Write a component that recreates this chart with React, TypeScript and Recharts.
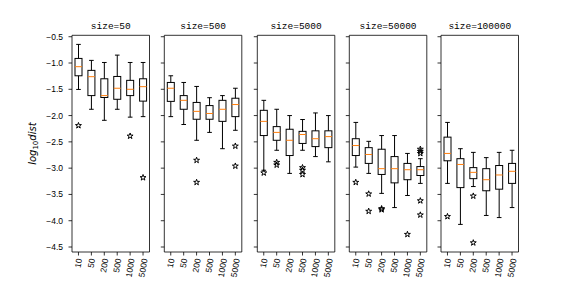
import React from 'react';
import { ComposedChart, Bar, Scatter, XAxis, YAxis, ReferenceArea } from 'recharts';

// ---------- data ----------
const CATEGORIES = ['10', '50', '200', '500', '1000', '5000'];
const SIZES = ['50', '500', '5000', '50000', '100000'];
const Y_TICKS = [-0.5, -1.0, -1.5, -2.0, -2.5, -3.0, -3.5, -4.0, -4.5];

const WHISKER_HIGH = [
  [-0.646, -0.95, -0.99, -0.85, -0.99, -0.99],
  [-1.243, -1.37, -1.446, -1.66, -1.62, -1.48],
  [-1.71, -1.88, -2.0, -2.075, -1.95, -2.0],
  [-2.13, -2.49, -2.38, -2.38, -2.72, -2.82],
  [-2.13, -2.63, -2.7, -2.8, -2.7, -2.66],
];
const Q3 = [
  [-0.913, -1.14, -1.3, -1.256, -1.33, -1.3],
  [-1.37, -1.62, -1.75, -1.81, -1.71, -1.67],
  [-1.9, -2.21, -2.26, -2.3, -2.29, -2.29],
  [-2.44, -2.61, -2.64, -2.78, -2.91, -2.97],
  [-2.41, -2.82, -2.99, -3.01, -2.95, -2.91],
];
const MEDIAN = [
  [-1.07, -1.26, -1.62, -1.48, -1.5, -1.45],
  [-1.48, -1.71, -1.92, -1.96, -1.88, -1.79],
  [-2.11, -2.32, -2.47, -2.36, -2.44, -2.4],
  [-2.57, -2.74, -3.01, -3.01, -3.03, -3.03],
  [-2.72, -2.93, -3.08, -3.22, -3.13, -3.06],
];
const Q1 = [
  [-1.243, -1.62, -1.656, -1.69, -1.62, -1.725],
  [-1.73, -1.88, -2.07, -2.07, -2.11, -2.02],
  [-2.38, -2.47, -2.76, -2.53, -2.59, -2.61],
  [-2.76, -2.91, -3.12, -3.28, -3.22, -3.14],
  [-2.86, -3.37, -3.2, -3.43, -3.4, -3.29],
];
const WHISKER_LOW = [
  [-1.503, -1.88, -2.09, -1.88, -2.03, -2.02],
  [-2.02, -2.17, -2.47, -2.32, -2.63, -2.28],
  [-3.04, -2.66, -3.1, -2.66, -2.78, -2.88],
  [-2.98, -3.1, -3.48, -3.75, -3.52, -3.29],
  [-3.29, -4.07, -3.35, -3.9, -3.94, -3.75],
];
const OUTLIERS: number[][][] = [
  [[-2.19], [], [], [], [-2.39], [-3.18]],
  [[], [], [-2.85, -3.27], [], [], [-2.58, -2.96]],
  [[-3.09], [-2.89, -2.94], [], [-2.99, -3.04, -3.12], [], []],
  [[-3.27], [-3.49, -3.82], [-3.77, -3.79], [], [-4.26], [-2.64, -2.68, -2.72, -3.62, -3.89]],
  [[-3.92], [], [-3.53, -4.42], [], [], []],
];

// ---------- layout ----------
const W = 576;
const H = 288;
const PANEL_LEFT = [72, 164.3, 257.3, 349.3, 441];
const PANEL_W = 77.5;
const PLOT_TOP = 35.3;
const PLOT_BOTTOM = 252;
const Y_DOMAIN: [number, number] = [-4.595, -0.473];
const X_DOMAIN: [number, number] = [0.5, 6.5];
const YAXIS_W = 40;
const XAXIS_H = 30;
const TICK_FONT = '"Liberation Sans", Arial, sans-serif';
const TITLE_FONT = '"Liberation Mono", monospace';

const fmt = (v: number) => v.toFixed(1).replace('-', '\u2212');

const BoxShape = (props: any) => {
  const { x, y, width, height, payload } = props;
  if (x == null || y == null || !payload) return <g />;
  const top = Math.min(y, y + height);
  const bot = Math.max(y, y + height);
  const hi = payload.wh;
  const lo = payload.wl;
  const k = (bot - top) / (hi - lo);
  const py = (v: number) => top + (hi - v) * k;
  const cx = x + width / 2;
  const half = width / 2;
  const cap = width * 0.33;
  const yq3 = py(payload.q3);
  const yq1 = py(payload.q1);
  const ym = py(payload.med);
  return (
    <g>
      <line x1={cx} x2={cx} y1={top} y2={yq3} stroke="#000" strokeWidth={1} />
      <line x1={cx} x2={cx} y1={yq1} y2={bot} stroke="#000" strokeWidth={1} />
      <line x1={cx - cap} x2={cx + cap} y1={top} y2={top} stroke="#000" strokeWidth={1} />
      <line x1={cx - cap} x2={cx + cap} y1={bot} y2={bot} stroke="#000" strokeWidth={1} />
      <rect x={cx - half} y={yq3} width={width} height={yq1 - yq3} fill="none" stroke="#000" strokeWidth={1} />
      <line x1={cx - half} x2={cx + half} y1={ym} y2={ym} stroke="#ff7f0e" strokeWidth={1} />
    </g>
  );
};

const StarShape = (p: any) => {
  const { cx, cy } = p;
  if (cx == null || cy == null) return <g />;
  const R = 3.1;
  const r = R * 0.382;
  const pts: string[] = [];
  for (let k = 0; k < 10; k++) {
    const rad = k % 2 === 0 ? R : r;
    const a = -Math.PI / 2 + (k * Math.PI) / 5;
    pts.push(`${cx + rad * Math.cos(a)},${cy + rad * Math.sin(a)}`);
  }
  return <polygon points={pts.join(' ')} fill="none" stroke="#000" strokeWidth={1} />;
};

const makeYTick = (show: boolean) => (p: any) =>
  show ? (
    <text x={p.x} y={p.y} dy="0.35em" textAnchor="end" fontSize={8.5} fontFamily={TICK_FONT} fill="#000">
      {fmt(p.payload.value)}
    </text>
  ) : (
    <g />
  );

const XTick = (p: any) => {
  const { x, y, payload } = p;
  const label = CATEGORIES[Math.round(payload.value) - 1] ?? '';
  const L = label.length * 4.7;
  const ax = x + 0.087 * L;
  return (
    <text
      x={ax}
      y={y}
      dy="0.35em"
      transform={`rotate(-80, ${ax}, ${y})`}
      textAnchor="end"
      fontSize={8.5}
      fontFamily={TICK_FONT}
      fill="#000"
    >
      {label}
    </text>
  );
};

const YLabel = (p: any) => {
  const vb = p.viewBox || { x: 32, y: PLOT_TOP, width: YAXIS_W, height: PLOT_BOTTOM - PLOT_TOP };
  const cx = vb.x + vb.width - 36;
  const cy = vb.y + vb.height / 2;
  return (
    <text
      x={cx}
      y={cy}
      transform={`rotate(-90, ${cx}, ${cy})`}
      textAnchor="middle"
      fontSize={10}
      fontFamily='"DejaVu Sans", sans-serif'
      fill="#000"
    >
      <tspan fontStyle="italic">log</tspan>
      <tspan fontSize={7} dy={2}>10</tspan>
      <tspan fontStyle="italic" dy={-2}>dist</tspan>
    </text>
  );
};

function Panel({ idx }: { idx: number }) {
  const rows = CATEGORIES.map((_, i) => ({
    pos: i + 1,
    wl: WHISKER_LOW[idx][i],
    q1: Q1[idx][i],
    med: MEDIAN[idx][i],
    q3: Q3[idx][i],
    wh: WHISKER_HIGH[idx][i],
    range: [WHISKER_LOW[idx][i], WHISKER_HIGH[idx][i]],
  }));
  const fliers = OUTLIERS[idx].flatMap((vals, i) => vals.map((v) => ({ pos: i + 1, v })));
  const left = PANEL_LEFT[idx];
  const title = `size=${SIZES[idx]}`;
  const TitleLabel = (p: any) => {
    const vb = p.viewBox || { x: left, y: PLOT_TOP, width: PANEL_W };
    return (
      <text x={vb.x + vb.width / 2} y={vb.y - 6.3} textAnchor="middle" fontSize={9.5} fontFamily={TITLE_FONT} fill="#000">
        {title}
      </text>
    );
  };
  return (
    <div style={{ position: 'absolute', left: 0, top: 0 }}>
      <ComposedChart
        width={W}
        height={H}
        data={rows}
        margin={{
          top: PLOT_TOP,
          bottom: H - PLOT_BOTTOM - XAXIS_H,
          left: left - YAXIS_W,
          right: W - left - PANEL_W,
        }}
      >
        <XAxis
          dataKey="pos"
          type="number"
          domain={X_DOMAIN}
          ticks={[1, 2, 3, 4, 5, 6]}
          allowDataOverflow
          height={XAXIS_H}
          axisLine={false}
          tickLine={{ stroke: '#000', strokeWidth: 0.8 }}
          tickSize={3.5}
          tickMargin={3}
          interval={0}
          tick={XTick}
        />
        <YAxis
          type="number"
          domain={Y_DOMAIN}
          ticks={Y_TICKS}
          allowDataOverflow
          width={YAXIS_W}
          axisLine={false}
          tickLine={{ stroke: '#000', strokeWidth: 0.8 }}
          tickSize={3.5}
          tickMargin={5.5}
          interval={0}
          tick={makeYTick(idx === 0)}
          label={idx === 0 ? { content: YLabel } : undefined}
        />
        <ReferenceArea
          x1={X_DOMAIN[0]}
          x2={X_DOMAIN[1]}
          y1={Y_DOMAIN[0]}
          y2={Y_DOMAIN[1]}
          fill="none"
          fillOpacity={0}
          stroke="#000"
          strokeWidth={0.8}
          strokeOpacity={1}
          ifOverflow="visible"
          label={{ content: TitleLabel }}
        />
        <Bar dataKey="range" barSize={7} shape={BoxShape} isAnimationActive={false} />
        <Scatter data={fliers} dataKey="v" shape={StarShape} isAnimationActive={false} />
      </ComposedChart>
    </div>
  );
}

export default function App() {
  return (
    <div style={{ position: 'absolute', left: 0, top: 0, width: W, height: H, background: '#fff', overflow: 'hidden' }}>
      {SIZES.map((_, i) => (
        <Panel key={i} idx={i} />
      ))}
    </div>
  );
}
